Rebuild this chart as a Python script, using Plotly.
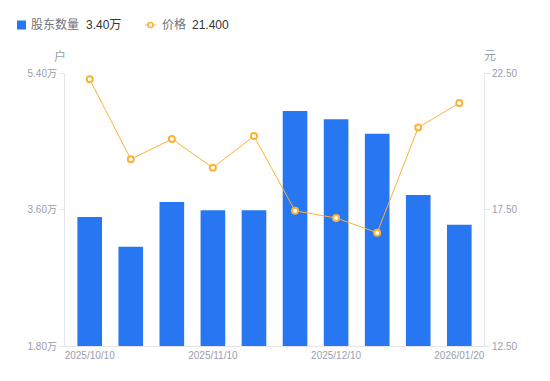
import plotly.graph_objects as go

dates = ["2025/10/10", "2025/10/20", "2025/10/31", "2025/11/10", "2025/11/20",
         "2025/11/28", "2025/12/10", "2025/12/19", "2025/12/31", "2026/01/20"]
holders = [3.50, 3.11, 3.70, 3.59, 3.59, 4.90, 4.79, 4.60, 3.79, 3.40]  # 万户
price = [22.27, 19.34, 20.08, 19.03, 20.19, 17.45, 17.19, 16.65, 20.50, 21.40]
tick_dates = ["2025/10/10", "2025/11/10", "2025/12/10", "2026/01/20"]
left_ticks = [1.80, 3.60, 5.40]
right_ticks = [12.50, 17.50, 22.50]

BLUE = "#2777F3"
ORANGE = "#FBB236"
GRAY = "#9a9eae"
LABEL = "#70737c"
DARK = "#333333"
AXIS = "#e3e5ea"
FONT = "Liberation Sans, Noto Sans CJK SC, sans-serif"

# plot area in figure pixels (page adds an 8px body offset)
L, R, T, B, W, H = 57, 74, 65, 43, 550, 381
PW, PH = W - L - R, H - T - B


def px(fx):
    return (fx - L) / PW


def py(fy):
    return (H - B - fy) / PH


fig = go.Figure()
fig.add_trace(go.Bar(
    x=dates, y=holders, yaxis="y", width=0.6,
    marker=dict(color=BLUE, line=dict(width=0)), name="股东数量", showlegend=False,
))
fig.add_trace(go.Scatter(
    x=dates, y=price, yaxis="y2", mode="lines+markers",
    line=dict(color=ORANGE, width=1),
    marker=dict(symbol="circle", size=6, color="white", line=dict(color=ORANGE, width=2)),
    name="价格", showlegend=False,
))

ly = 17  # legend row centre (figure px)
shapes = [
    dict(type="rect", xref="paper", yref="paper", x0=px(9), x1=px(18), y0=py(ly - 4.5), y1=py(ly + 4.5),
         fillcolor=BLUE, line=dict(width=0)),
    dict(type="line", xref="paper", yref="paper", x0=px(137), x1=px(148), y0=py(ly), y1=py(ly),
         line=dict(color=ORANGE, width=1)),
    dict(type="circle", xref="paper", yref="paper", xsizemode="pixel", ysizemode="pixel",
         xanchor=px(142.5), yanchor=py(ly), x0=-2.5, x1=2.5, y0=-2.5, y1=2.5,
         fillcolor="white", line=dict(color=ORANGE, width=1.6)),
]


def txt(s, fx, color, size=12):
    return dict(text=s, xref="paper", yref="paper", x=px(fx), y=py(ly), showarrow=False,
                xanchor="left", yanchor="middle", font=dict(size=size, color=color, family=FONT),
                borderpad=0)


annotations = [
    txt("股东数量", 22, LABEL), txt("%.2f万" % holders[-1], 77, DARK),
    txt("价格", 153, LABEL), txt("%.3f" % price[-1], 183, DARK),
    dict(text="户", xref="paper", yref="paper", x=-0.012, y=1.0, yshift=17,
         showarrow=False, font=dict(size=12, color=GRAY), xanchor="center", yanchor="middle"),
    dict(text="元", xref="paper", yref="paper", x=1.014, y=1.0, yshift=17,
         showarrow=False, font=dict(size=12, color=GRAY), xanchor="center", yanchor="middle"),
]

fig.update_layout(
    width=W, height=H,
    margin=dict(l=L, r=R, t=T, b=B, autoexpand=False),
    paper_bgcolor="white", plot_bgcolor="white",
    font=dict(family=FONT, size=10, color=GRAY),
    showlegend=False,
    xaxis=dict(type="category", tickmode="array", tickvals=tick_dates, ticktext=tick_dates,
               showgrid=False, showline=True, linecolor=AXIS, linewidth=1,
               ticks="", tickfont=dict(size=10, color=GRAY), zeroline=False),
    yaxis=dict(range=[1.80, 5.40], tickvals=left_ticks,
               ticktext=["%.2f万" % v for v in left_ticks],
               showgrid=False, showline=True, linecolor=AXIS, linewidth=1,
               ticks="outside", ticklen=5, tickcolor=AXIS,
               tickfont=dict(size=10, color=GRAY), zeroline=False),
    yaxis2=dict(range=[12.50, 22.50], tickvals=right_ticks,
                ticktext=["%.2f" % v for v in right_ticks],
                overlaying="y", side="right",
                showgrid=False, showline=True, linecolor=AXIS, linewidth=1,
                ticks="outside", ticklen=5, tickcolor=AXIS,
                tickfont=dict(size=10, color=GRAY), zeroline=False),
    shapes=shapes,
    annotations=annotations,
)

fig.write_html("out.html")
